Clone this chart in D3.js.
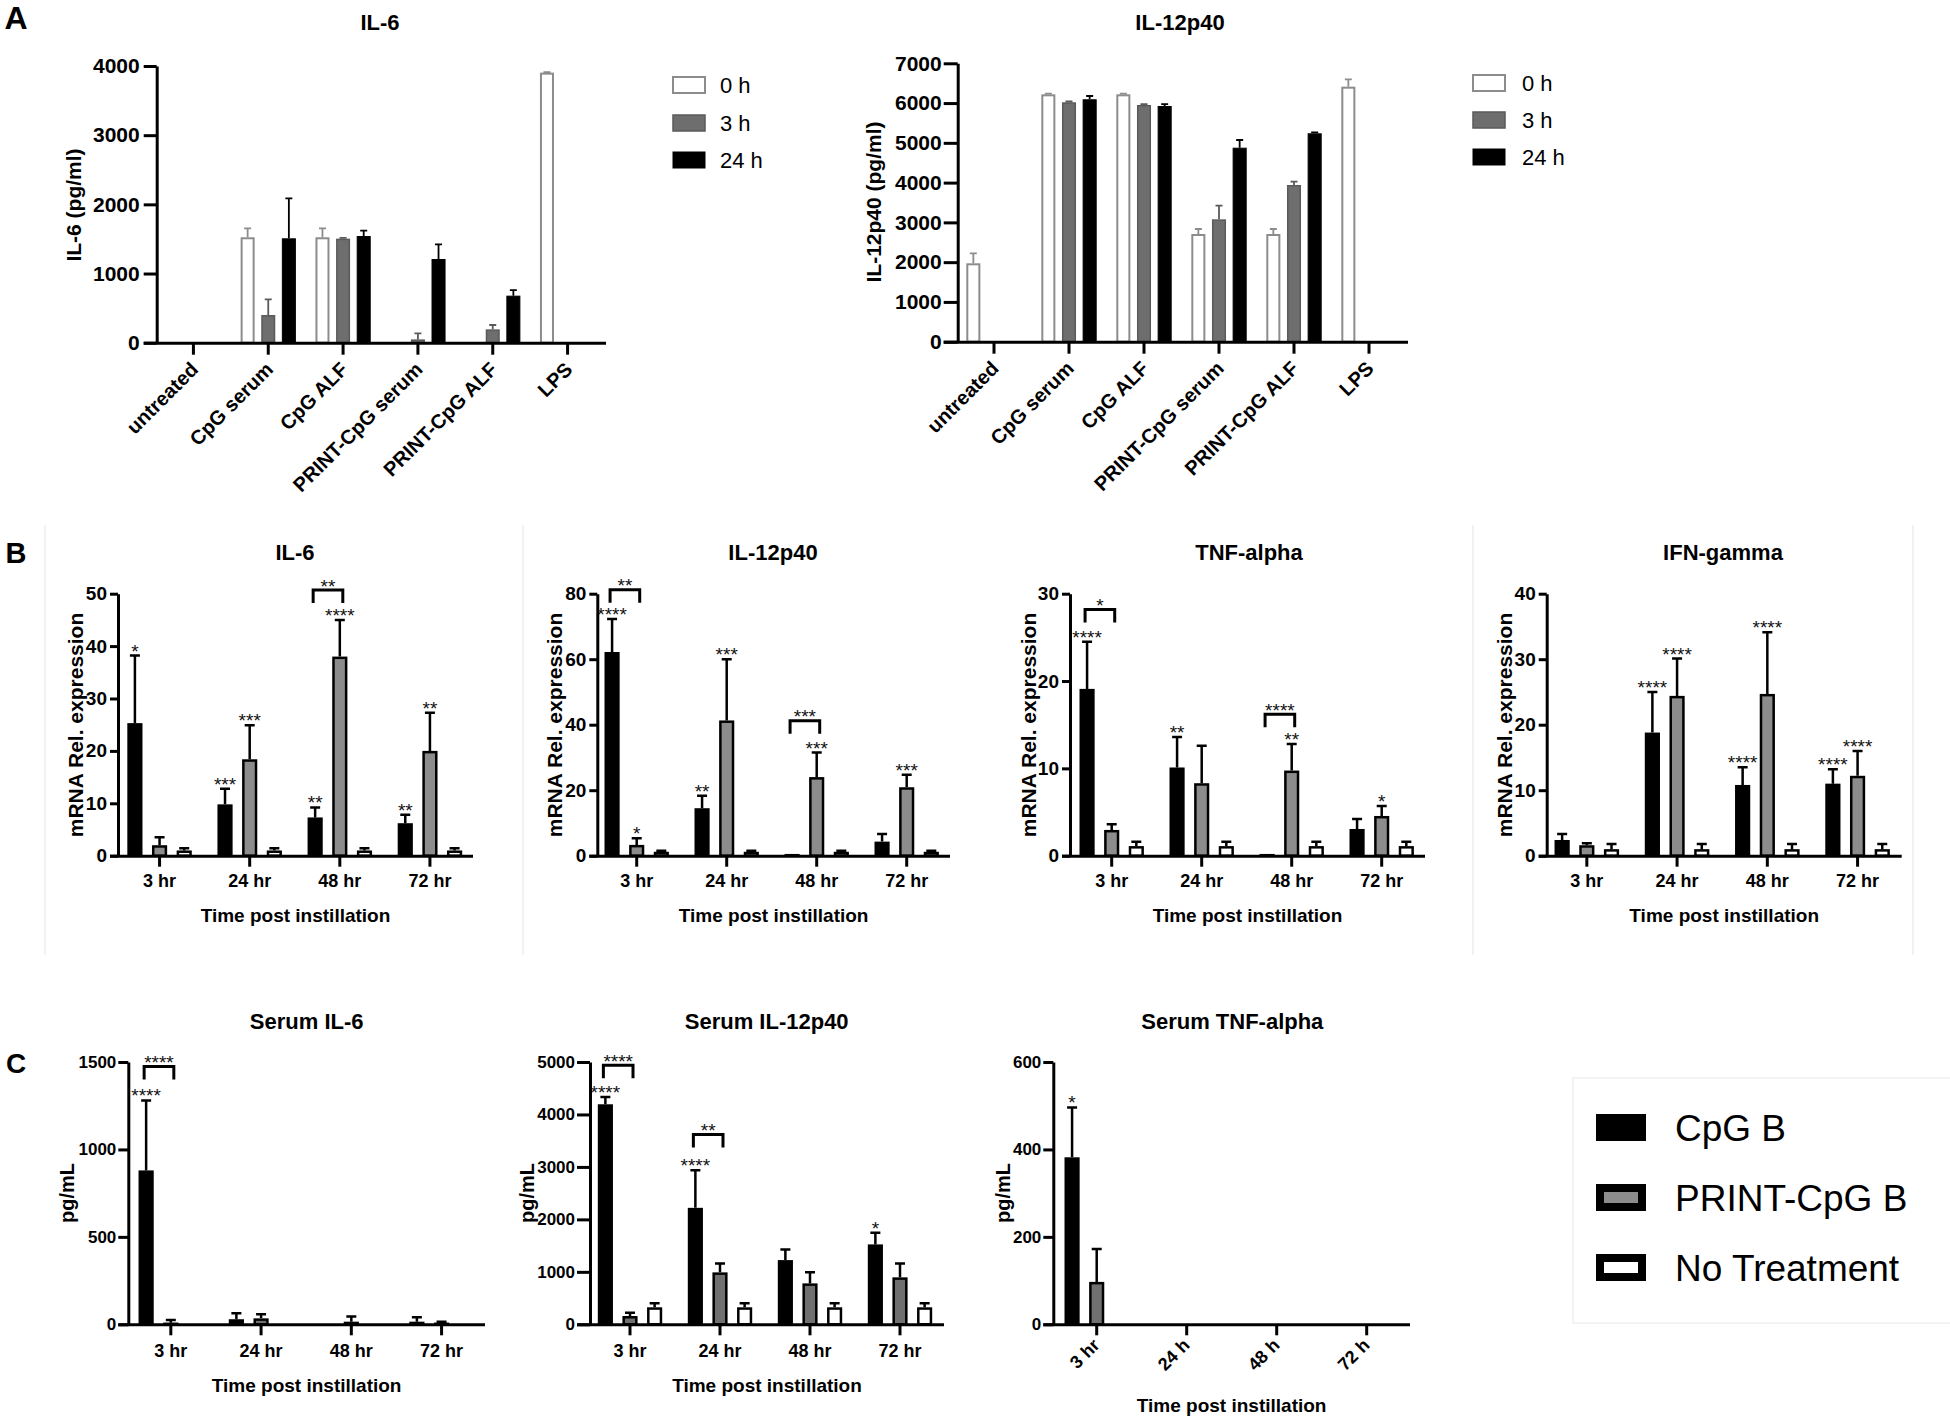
<!DOCTYPE html>
<html><head><meta charset="utf-8">
<script src="https://cdn.jsdelivr.net/npm/d3@7"></script>
<style>
body{margin:0;background:#fff;}
svg{display:block;background:#fff;}
</style></head><body>
<script>
// ================= DATA =================
// Panel A
const aCategories = ["untreated","CpG serum","CpG ALF","PRINT-CpG serum","PRINT-CpG ALF","LPS"];
const aSeries = ["0 h","3 h","24 h"];
const aIL6Ticks = [0,1000,2000,3000,4000];
const aIL6_0h   = [0,1524,1524,0,0,3904];
const aIL6_0hErr= [0,130,130,0,0,8];
const aIL6_3h   = [0,400,1504,48,193,0];
const aIL6_3hErr= [0,227,10,87,63,0];
const aIL6_24h  = [0,1509,1542,1210,680,0];
const aIL6_24hErr=[0,578,77,212,81,0];
const aIL12Ticks = [0,1000,2000,3000,4000,5000,6000,7000];
const aIL12_0h   = [1971,6220,6220,2708,2708,6412];
const aIL12_0hErr= [251,20,20,126,126,185];
const aIL12_3h   = [0,6020,5952,3077,3940,0];
const aIL12_3hErr= [0,20,18,343,83,0];
const aIL12_24h  = [0,6095,5927,4878,5240,0];
const aIL12_24hErr=[0,83,48,194,25,0];

// Panels B and C
const groups = ["CpG B","PRINT-CpG B","No Treatment"];
const timeCategories = ["3 hr","24 hr","48 hr","72 hr"];
const tnfSerumCategories = ["3 hr","24 h","48 h","72 h"];

const bIL6Ticks = [0,10,20,30,40,50];
const bIL6_CpG = [25.3,9.8,7.3,6.2];      const bIL6_CpGErr = [12.9,3.0,1.9,1.6];
const bIL6_PRINT = [2.0,18.4,38.0,20.0];  const bIL6_PRINTErr = [1.5,6.5,7.0,7.3];
const bIL6_NoT = [1,1,1,1];               const bIL6_NoTErr = [0.4,0.4,0.4,0.4];
const bIL6Stars = [["3 hr",0,"*"],["24 hr",0,"***"],["24 hr",1,"***"],["48 hr",0,"**"],["48 hr",1,"****"],["72 hr",0,"**"],["72 hr",1,"**"]];
const bIL6Brackets = [["48 hr",0,1,50.7,"**"]];

const bIL12Ticks = [0,20,40,60,80];
const bIL12_CpG = [62.2,14.5,0.3,4.3];     const bIL12_CpGErr = [10.1,3.8,0,2.3];
const bIL12_PRINT = [3.3,41.3,24.0,20.9];  const bIL12_PRINTErr = [2.0,18.7,7.5,3.8];
const bIL12_NoT = [1.2,1.2,1.2,1.2];       const bIL12_NoTErr = [0.3,0.3,0.3,0.3];
const bIL12Stars = [["3 hr",0,"****"],["3 hr",1,"*"],["24 hr",0,"**"],["24 hr",1,"***"],["48 hr",1,"***"],["72 hr",1,"***"]];
const bIL12Brackets = [["3 hr",0,1,81.2,"**"],["48 hr",0,1,41.2,"***"]];

const bTNFTicks = [0,10,20,30];
const bTNF_CpG = [19.1,10.1,0.2,3.06];     const bTNF_CpGErr = [5.4,3.5,0,1.14];
const bTNF_PRINT = [2.95,8.3,9.75,4.55];   const bTNF_PRINTErr = [0.65,4.3,3.05,1.15];
const bTNF_NoT = [1.1,1.1,1.1,1.1];        const bTNF_NoTErr = [0.5,0.5,0.5,0.5];
const bTNFStars = [["3 hr",0,"****"],["24 hr",0,"**"],["48 hr",1,"**"],["72 hr",1,"*"]];
const bTNFBrackets = [["3 hr",0,1,28.2,"*"],["48 hr",0,1,16.2,"****"]];

const bIFNTicks = [0,10,20,30,40];
const bIFN_CpG = [2.4,18.8,10.8,11.0];     const bIFN_CpGErr = [0.9,6.2,2.7,2.2];
const bIFN_PRINT = [1.6,24.4,24.7,12.2];   const bIFN_PRINTErr = [0.3,5.7,9.4,3.8];
const bIFN_NoT = [1.0,1.0,1.0,1.0];        const bIFN_NoTErr = [0.8,0.8,0.8,0.8];
const bIFNStars = [["24 hr",0,"****"],["24 hr",1,"****"],["48 hr",0,"****"],["48 hr",1,"****"],["72 hr",0,"****"],["72 hr",1,"****"]];
const bIFNBrackets = [];

const cIL6Ticks = [0,500,1000,1500];
const cIL6_CpG = [880,29,0,15];            const cIL6_CpGErr = [400,34,0,25];
const cIL6_PRINT = [9,34,15,5];            const cIL6_PRINTErr = [16,23,29,10];
const cIL6_NoT = [0,0,0,0];                const cIL6_NoTErr = [0,0,0,0];
const cIL6Stars = [["3 hr",0,"****"]];
const cIL6Brackets = [["3 hr",0,1,1474,"****"]];

const cIL12Ticks = [0,1000,2000,3000,4000,5000];
const cIL12_CpG = [4194,2220,1224,1523];   const cIL12_CpGErr = [139,717,204,222];
const cIL12_PRINT = [158,990,780,895];     const cIL12_PRINTErr = [64,170,210,265];
const cIL12_NoT = [324,324,324,324];       const cIL12_NoTErr = [76,76,76,76];
const cIL12Stars = [["3 hr",0,"****"],["24 hr",0,"****"],["72 hr",0,"*"]];
const cIL12Brackets = [["3 hr",0,1,4936,"****"],["24 hr",0,1,3617,"**"]];

const cTNFTicks = [0,200,400,600];
const cTNF_CpG = [382,0,0,0];              const cTNF_CpGErr = [114,0,0,0];
const cTNF_PRINT = [97,0,0,0];             const cTNF_PRINTErr = [75,0,0,0];
const cTNF_NoT = [0,0,0,0];                const cTNF_NoTErr = [0,0,0,0];
const cTNFStars = [["3 hr",0,"*"]];
const cTNFBrackets = [];

// ================= DRAWING =================
const FONT = '"Liberation Sans", Arial, Helvetica, sans-serif';
const svg = d3.select("body").append("svg")
  .attr("width",1950).attr("height",1425)
  .attr("font-family",FONT);

const aStyles = [
  {fill:"#ffffff", stroke:"#8c8c8c", sw:2,   err:"#8c8c8c"},
  {fill:"#6e6e6e", stroke:"#5a5a5a", sw:1.5, err:"#5a5a5a"},
  {fill:"#000000", stroke:"#000000", sw:1,   err:"#000000"}
];
const bStyles = [
  {fill:"#000000", stroke:"#000", sw:2.5, err:"#000"},
  {fill:"#8c8c8c", stroke:"#000", sw:2.5, err:"#000"},
  {fill:"#ffffff", stroke:"#000", sw:2.5, err:"#000"}
];
const cStyles = [
  {fill:"#000000", stroke:"#000", sw:2.5, err:"#000"},
  {fill:"#707070", stroke:"#000", sw:2.5, err:"#000"},
  {fill:"#ffffff", stroke:"#000", sw:2.5, err:"#000"}
];

function drawPanel(p){
  const g = svg.append("g");
  const y = d3.scaleLinear().domain([0,p.yMax]).range([p.y0,p.yTop]);
  const x0 = d3.scaleBand().domain(p.categories).range(p.bandRange);
  const names = p.series.map(s=>s.name);
  const x1 = d3.scaleBand().domain(names).range([0,x0.bandwidth()]).paddingInner(p.pIn).paddingOuter(p.pOut);
  const bw = x1.bandwidth();
  const cx = (c,si)=>x0(c)+x1(names[si])+bw/2;

  p.series.forEach((s,si)=>{
    const st = p.styles[si];
    const rows = p.categories.map((c,i)=>({c:c,v:s.values[i],e:s.errors[i]})).filter(d=>d.v>0);
    g.append("g").selectAll("rect").data(rows).join("rect")
      .attr("x",d=>x0(d.c)+x1(s.name)+st.sw/2)
      .attr("width",bw-st.sw)
      .attr("y",d=>Math.min(y(d.v)+st.sw/2,p.y0-0.5))
      .attr("height",d=>Math.max(0.5,p.y0-y(d.v)-st.sw/2))
      .attr("fill",st.fill).attr("stroke",st.stroke).attr("stroke-width",st.sw);
    g.append("g").attr("stroke",st.err).attr("stroke-width",p.errW).attr("fill","none")
      .selectAll("path").data(rows.filter(d=>d.e>0)).join("path")
      .attr("d",d=>{const xc=cx(d.c,si), yt=y(d.v+d.e), yb=y(d.v);
        return `M${xc},${yb}V${yt}M${xc-p.capW/2},${yt}H${xc+p.capW/2}`;});
  });

  // y axis
  const ya = g.append("g").attr("transform",`translate(${p.axisX},0)`)
    .call(d3.axisLeft(y).tickValues(p.yTicks).tickFormat(d3.format("d"))
      .tickSize(p.yTickLen).tickPadding(p.yTickPad).tickSizeOuter(0));
  ya.attr("font-family",FONT);
  ya.select(".domain").attr("stroke-width",p.axisW).attr("stroke","#000");
  ya.selectAll(".tick line").attr("stroke-width",p.axisW).attr("stroke","#000");
  ya.selectAll(".tick text").attr("font-size",p.yTickFont).attr("font-weight","bold").attr("fill","#000");

  // x axis
  const xa = g.append("g").attr("transform",`translate(0,${p.y0})`)
    .call(d3.axisBottom(x0).tickSize(p.xTickLen).tickPadding(p.xTickPad).tickSizeOuter(0));
  xa.attr("font-family",FONT);
  xa.select(".domain").attr("d",`M${p.axisX-p.yTickLen},0.5H${p.axisEnd}`).attr("stroke-width",p.axisW).attr("stroke","#000");
  xa.selectAll(".tick line").attr("stroke-width",p.axisW).attr("stroke","#000");
  const xt = xa.selectAll(".tick text").attr("font-size",p.xTickFont).attr("font-weight","bold").attr("fill","#000");
  if(p.xRotate){
    xt.attr("y",0).attr("dy",0).attr("text-anchor","end")
      .attr("transform",`translate(${p.xRotDx},${p.xRotDy}) rotate(-45)`);
  }

  // title
  g.append("text").attr("x",p.titleX).attr("y",p.titleY)
    .attr("text-anchor","middle").attr("dominant-baseline","central")
    .attr("font-size",p.titleFont||22).attr("font-weight","bold").text(p.title);
  // y label
  g.append("text").attr("transform",`translate(${p.yLabX},${p.yLabY}) rotate(-90)`)
    .attr("text-anchor","middle").attr("dominant-baseline","central")
    .attr("font-size",p.yLabFont).attr("font-weight","bold").text(p.yLabel);
  // x title
  if(p.xTitle){
    g.append("text").attr("x",(p.axisX+p.axisEnd)/2).attr("y",p.xTitleY)
      .attr("text-anchor","middle").attr("dominant-baseline","central")
      .attr("font-size",19).attr("font-weight","bold").text(p.xTitle);
  }
  // stars
  (p.stars||[]).forEach(([c,si,t])=>{
    const s = p.series[si]; const i = p.categories.indexOf(c);
    const top = y(s.values[i]+s.errors[i]);
    g.append("text").attr("x",cx(c,si)).attr("y",top+2)
      .attr("text-anchor","middle").attr("font-size",19).attr("fill","#111").text(t);
  });
  // brackets
  (p.brackets||[]).forEach(([c,a,b,lvl,t])=>{
    const xl = cx(c,a)-2, xr = cx(c,b)+3, yt = y(lvl);
    g.append("path").attr("d",`M${xl},${yt+13}V${yt}H${xr}V${yt+13}`)
      .attr("fill","none").attr("stroke","#000").attr("stroke-width",3);
    g.append("text").attr("x",(xl+xr)/2).attr("y",yt+2.5)
      .attr("text-anchor","middle").attr("font-size",19).attr("fill","#111").text(t);
  });
}

function mk(names, vals, errs){ return names.map((n,i)=>({name:n,values:vals[i],errors:errs[i]})); }

// ---- Panel A ----
const aCommon = {categories:aCategories, styles:aStyles, pIn:0.32, pOut:0.475,
  yTickLen:13, yTickPad:4, yTickFont:21, xTickLen:12, xTickPad:4, xTickFont:20,
  xRotate:true, xRotDx:6, xRotDy:28, axisW:3, errW:1.8, capW:7, yLabFont:21};
drawPanel(Object.assign({}, aCommon, {
  series: mk(aSeries,[aIL6_0h,aIL6_3h,aIL6_24h],[aIL6_0hErr,aIL6_3hErr,aIL6_24hErr]),
  bandRange:[156,605], axisX:156.7, axisEnd:606, y0:342.7, yTop:66, yMax:4000, yTicks:aIL6Ticks,
  title:"IL-6", titleX:380, titleY:22, yLabel:"IL-6 (pg/ml)", yLabX:73, yLabY:205}));
drawPanel(Object.assign({}, aCommon, {
  series: mk(aSeries,[aIL12_0h,aIL12_3h,aIL12_24h],[aIL12_0hErr,aIL12_3hErr,aIL12_24hErr]),
  bandRange:[956.5,1406.5], axisX:957.7, axisEnd:1408, y0:341.7, yTop:63.3, yMax:7000, yTicks:aIL12Ticks,
  yTickLen:14, yTickPad:2,
  title:"IL-12p40", titleX:1180, titleY:22, yLabel:"IL-12p40 (pg/ml)", yLabX:873, yLabY:202}));

// ---- Panel B ----
const bCommon = {categories:timeCategories, styles:bStyles, pIn:0.385, pOut:0.52,
  y0:855.7, yTop:593.7, yTickLen:8, yTickPad:3, yTickFont:19, xTickLen:11, xTickPad:7.7, xTickFont:18,
  axisW:3, errW:2.5, capW:10, titleY:552, yLabel:"mRNA Rel. expression", yLabY:725, yLabFont:21,
  xTitle:"Time post instillation", xTitleY:915};
drawPanel(Object.assign({}, bCommon, {
  series: mk(groups,[bIL6_CpG,bIL6_PRINT,bIL6_NoT],[bIL6_CpGErr,bIL6_PRINTErr,bIL6_NoTErr]),
  bandRange:[114.5,475], axisX:118, axisEnd:473, yMax:50, yTicks:bIL6Ticks,
  title:"IL-6", titleX:295, yLabX:75, stars:bIL6Stars, brackets:bIL6Brackets}));
drawPanel(Object.assign({}, bCommon, {
  series: mk(groups,[bIL12_CpG,bIL12_PRINT,bIL12_NoT],[bIL12_CpGErr,bIL12_PRINTErr,bIL12_NoTErr]),
  bandRange:[591.7,951.7], axisX:597.3, axisEnd:950, yMax:80, yTicks:bIL12Ticks,
  title:"IL-12p40", titleX:773, yLabX:554, stars:bIL12Stars, brackets:bIL12Brackets}));
drawPanel(Object.assign({}, bCommon, {
  series: mk(groups,[bTNF_CpG,bTNF_PRINT,bTNF_NoT],[bTNF_CpGErr,bTNF_PRINTErr,bTNF_NoTErr]),
  bandRange:[1066.7,1426.7], axisX:1070, axisEnd:1425, yMax:30, yTicks:bTNFTicks,
  title:"TNF-alpha", titleX:1249, yLabX:1028, stars:bTNFStars, brackets:bTNFBrackets}));
drawPanel(Object.assign({}, bCommon, {
  series: mk(groups,[bIFN_CpG,bIFN_PRINT,bIFN_NoT],[bIFN_CpGErr,bIFN_PRINTErr,bIFN_NoTErr]),
  bandRange:[1541.7,1902.7], axisX:1546.7, axisEnd:1901.7, yMax:40, yTicks:bIFNTicks,
  title:"IFN-gamma", titleX:1723, yLabX:1504, stars:bIFNStars, brackets:bIFNBrackets}));

// ---- Panel C ----
const cCommon = {styles:cStyles, pIn:0.385, pOut:0.52,
  y0:1324.3, yTop:1062, yTickLen:10, yTickPad:2, yTickFont:17, xTickLen:11, xTickPad:8.5, xTickFont:18,
  axisW:3, errW:2.5, capW:10, titleY:1021.7, yLabel:"pg/mL", yLabY:1193, yLabFont:20,
  xTitle:"Time post instillation", xTitleY:1385};
drawPanel(Object.assign({}, cCommon, {categories:timeCategories,
  series: mk(groups,[cIL6_CpG,cIL6_PRINT,cIL6_NoT],[cIL6_CpGErr,cIL6_PRINTErr,cIL6_NoTErr]),
  bandRange:[125.7,486.7], axisX:128.3, axisEnd:485, yMax:1500, yTicks:cIL6Ticks,
  title:"Serum IL-6", titleX:306.7, yLabX:66.7, stars:cIL6Stars, brackets:cIL6Brackets}));
drawPanel(Object.assign({}, cCommon, {categories:timeCategories,
  series: mk(groups,[cIL12_CpG,cIL12_PRINT,cIL12_NoT],[cIL12_CpGErr,cIL12_PRINTErr,cIL12_NoTErr]),
  bandRange:[585,945], axisX:590, axisEnd:944, yMax:5000, yTicks:cIL12Ticks, yTickLen:13,
  title:"Serum IL-12p40", titleX:766.7, yLabX:527, stars:cIL12Stars, brackets:cIL12Brackets}));
drawPanel(Object.assign({}, cCommon, {categories:tnfSerumCategories,
  series: mk(groups,[cTNF_CpG,cTNF_PRINT,cTNF_NoT],[cTNF_CpGErr,cTNF_PRINTErr,cTNF_NoTErr]),
  bandRange:[1051.7,1411.7], axisX:1053.3, axisEnd:1410, yMax:600, yTicks:cTNFTicks,
  xRotate:true, xRotDx:4, xRotDy:22, xTitleY:1405,
  title:"Serum TNF-alpha", titleX:1232.3, yLabX:1003, stars:cTNFStars, brackets:cTNFBrackets}));

// ---- Legends ----
function legendA(x, textX, yc){
  const lg = svg.append("g");
  aSeries.forEach((n,i)=>{
    const st = aStyles[i];
    lg.append("rect").attr("x",x).attr("y",yc[i]-8).attr("width",32).attr("height",16)
      .attr("fill",st.fill).attr("stroke",st.stroke).attr("stroke-width",st.sw);
    lg.append("text").attr("x",textX).attr("y",yc[i]).attr("dominant-baseline","central")
      .attr("font-size",22).text(n);
  });
}
legendA(673, 720, [85,123,160]);
legendA(1473, 1522, [83,120,157]);

// legend C
svg.append("rect").attr("x",1573).attr("y",1078).attr("width",380).attr("height",245)
  .attr("fill","none").attr("stroke","#f0f0f0").attr("stroke-width",1.5);
const lc = svg.append("g");
const lcY = [1114,1184,1254];
groups.forEach((n,i)=>{
  const st = bStyles[i];
  lc.append("rect").attr("x",1600).attr("y",lcY[i]+4).attr("width",42).attr("height",19)
    .attr("fill",st.fill).attr("stroke","#000").attr("stroke-width",8);
  lc.append("text").attr("x",1675).attr("y",lcY[i]+14).attr("dominant-baseline","central")
    .attr("font-size",37).text(n);
});

// faint separators in panel B
[45,523,1473,1913].forEach(x=>{
  svg.append("line").attr("x1",x).attr("x2",x).attr("y1",525).attr("y2",955)
    .attr("stroke","#eeeeee").attr("stroke-width",1.5);
});

// panel letters
svg.append("text").attr("x",16).attr("y",18).attr("text-anchor","middle").attr("dominant-baseline","central")
  .attr("font-size",32).attr("font-weight","bold").text("A");
svg.append("text").attr("x",16).attr("y",553).attr("text-anchor","middle").attr("dominant-baseline","central")
  .attr("font-size",29).attr("font-weight","bold").text("B");
svg.append("text").attr("x",16).attr("y",1063).attr("text-anchor","middle").attr("dominant-baseline","central")
  .attr("font-size",28).attr("font-weight","bold").text("C");
</script>
</body></html>
